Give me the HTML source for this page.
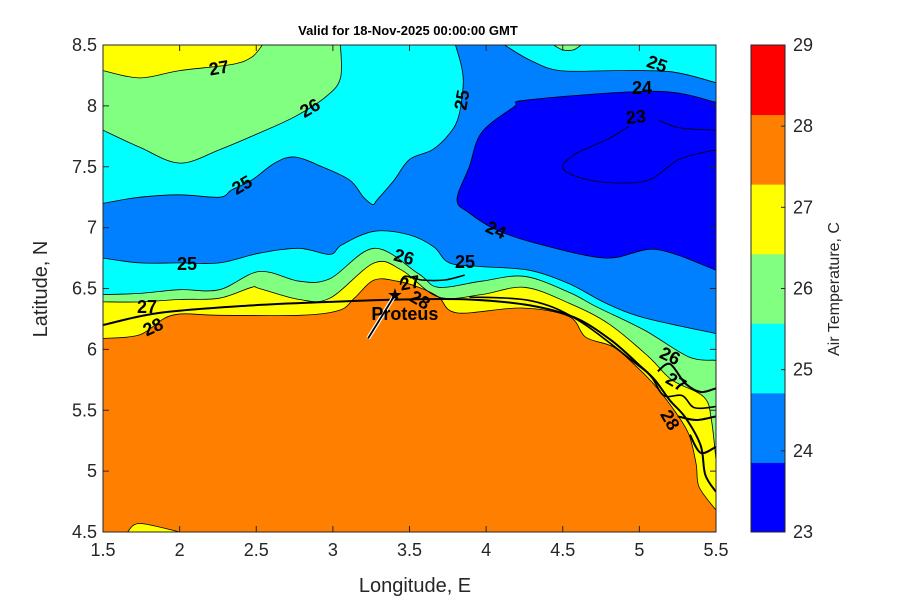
<!DOCTYPE html>
<html><head><meta charset="utf-8"><style>
body{margin:0;background:#fff;}
svg text{font-family:"Liberation Sans",sans-serif;}
</style></head><body>
<svg id="chart" width="900" height="600" viewBox="0 0 900 600" xmlns="http://www.w3.org/2000/svg">
<rect width="900" height="600" fill="#fff"/>
<text x="408" y="35" text-anchor="middle" font-size="13" font-weight="bold" fill="#000">Valid for 18-Nov-2025 00:00:00 GMT</text>
<g id="map"></g>
<g id="axes"></g>
<g id="cbar"></g>
<text x="415" y="592" text-anchor="middle" font-size="20" fill="#262626">Longitude, E</text>
<text transform="translate(47,289) rotate(-90)" text-anchor="middle" font-size="20" fill="#262626">Latitude, N</text>
<text transform="translate(839,289) rotate(-90)" text-anchor="middle" font-size="16" fill="#262626">Air Temperature, C</text>
</svg>
<script>
const xTicks=[1.5,2,2.5,3,3.5,4,4.5,5,5.5];
const yTicks=[4.5,5,5.5,6,6.5,7,7.5,8,8.5];
const cbarLevels=[23,24,25,26,27,28,29];
const cbarColors=['#0000ff','#0080ff','#00ffff','#80ff80','#ffff00','#ff8000','#ff0000'];
// contour lines [lon,lat]
const darkBlue24=[[5.5,8.03],[5.11,8.12],[4.28,8.05],[4.18,7.99],[3.97,7.78],[3.89,7.5],[3.81,7.23],[3.89,7.12],[4.07,6.98],[4.33,6.87],[4.78,6.75],[5.11,6.82],[5.5,6.65]];
const line23a=[[5.5,7.8],[5.26,7.82],[5.13,7.88]];
const line23b=[[4.93,7.83],[4.8,7.73],[4.59,7.61],[4.5,7.5],[4.59,7.42],[4.8,7.37],[5.06,7.39],[5.26,7.56],[5.5,7.64]];
const cyanNW=[[3.8,8.5],[3.84,8.32],[3.85,8.16],[3.82,7.91],[3.76,7.77],[3.65,7.64],[3.5,7.56],[3.4,7.39],[3.29,7.23],[3.26,7.19],[3.2,7.25],[3.11,7.39],[2.93,7.5],[2.75,7.58],[2.62,7.53],[2.47,7.39],[2.34,7.31],[2.26,7.25],[2.0,7.27],[1.74,7.25],[1.5,7.2]];
const cyanNE=[[4.12,8.5],[4.28,8.38],[4.48,8.29],[4.85,8.29],[5.21,8.28],[5.5,8.19]];
const greenTopBump=[[4.44,8.5],[4.5,8.46],[4.57,8.46],[4.62,8.5]];
const greenNW=[[3.05,8.5],[3.05,8.23],[2.96,8.08],[2.75,7.91],[2.47,7.75],[2.26,7.64],[2.0,7.53],[1.74,7.66],[1.5,7.8]];
const yellowNW=[[2.54,8.5],[2.47,8.4],[2.34,8.34],[2.0,8.29],[1.74,8.23],[1.5,8.29]];
const c25S=[[1.5,6.75],[1.74,6.71],[2.0,6.71],[2.26,6.71],[2.52,6.79],[2.78,6.83],[2.98,6.78],[3.06,6.86],[3.27,6.97],[3.5,6.94],[3.66,6.84],[3.76,6.71],[3.97,6.68],[4.28,6.65],[4.54,6.54],[4.78,6.38],[5.03,6.26],[5.5,6.13]];
const c26S=[[1.5,6.45],[1.74,6.46],[2.0,6.49],[2.26,6.49],[2.52,6.64],[2.78,6.56],[2.98,6.58],[3.27,6.83],[3.56,6.62],[3.69,6.51],[3.97,6.56],[4.25,6.6],[4.54,6.47],[4.72,6.35],[5.03,6.16],[5.32,5.94],[5.5,5.91]];
const c27S=[[1.5,6.39],[1.74,6.39],[2.0,6.41],[2.26,6.42],[2.47,6.51],[2.52,6.5],[2.78,6.41],[2.98,6.42],[3.27,6.71],[3.45,6.65],[3.69,6.43],[3.97,6.45],[4.25,6.51],[4.54,6.38],[4.8,6.21],[5.06,5.94],[5.21,5.75],[5.42,5.61],[5.47,5.42],[5.5,5.09]];
const c28S=[[1.5,6.09],[1.74,6.12],[1.95,6.28],[2.26,6.28],[2.78,6.28],[3.04,6.32],[3.14,6.42],[3.27,6.57],[3.42,6.56],[3.56,6.51],[3.69,6.43],[3.81,6.3],[4.23,6.34],[4.54,6.27],[4.65,6.1],[4.83,6.02],[4.98,5.86],[5.09,5.72],[5.21,5.53],[5.32,5.31],[5.37,5.06],[5.39,4.87],[5.5,4.68]];
const yellowBlob=[[1.66,4.5],[1.74,4.57],[2.0,4.5]];
const coast1=[[1.5,6.2],[1.87,6.3],[2.46,6.36],[2.98,6.39],[3.44,6.41],[3.89,6.41],[4.29,6.36],[4.58,6.26],[4.81,6.08],[5.0,5.87],[5.1,5.75],[5.2,5.58],[5.3,5.44],[5.4,5.21],[5.43,4.97],[5.5,4.83]];
const coast2=[[3.89,6.43],[4.29,6.4],[4.6,6.24],[4.98,5.88],[5.08,5.77],[5.16,5.62],[5.28,5.62],[5.36,5.52],[5.5,5.53]];
const coast3=[[5.12,5.82],[5.2,5.88],[5.3,5.72],[5.4,5.65],[5.5,5.68]];
const coast4=[[5.25,5.45],[5.37,5.42],[5.5,5.45]];
const coast5=[[5.33,5.3],[5.4,5.15],[5.5,5.2]];
const island=[[3.44,6.53],[3.47,6.6],[3.58,6.57],[3.73,6.57],[3.86,6.61]];
const proteus=[3.405,6.447];
const trackEnd=[3.23,6.09];

const X0=103,X1=716,Y0=45,Y1=532;
const x=v=>X0+(v-1.5)/(5.5-1.5)*(X1-X0);
const y=v=>Y1-(v-4.5)/(8.5-4.5)*(Y1-Y0);
const NS='http://www.w3.org/2000/svg';
const map=document.getElementById('map');
function mk(tag,attrs,parent){const e=document.createElementNS(NS,tag);for(const k in attrs)e.setAttribute(k,attrs[k]);parent.appendChild(e);return e;}
function smooth(a){
 const P=a.map(p=>[x(p[0]),y(p[1])]);
 let d='M'+P[0][0].toFixed(1)+','+P[0][1].toFixed(1);
 for(let i=0;i<P.length-1;i++){
  const p0=P[Math.max(i-1,0)],p1=P[i],p2=P[i+1],p3=P[Math.min(i+2,P.length-1)];
  const c1=[p1[0]+(p2[0]-p0[0])/6,p1[1]+(p2[1]-p0[1])/6];
  const c2=[p2[0]-(p3[0]-p1[0])/6,p2[1]-(p3[1]-p1[1])/6];
  d+=' C'+c1.map(v=>v.toFixed(1)).join(',')+' '+c2.map(v=>v.toFixed(1)).join(',')+' '+p2.map(v=>v.toFixed(1)).join(',');
 }
 return d;
}
const clip=mk('clipPath',{id:'pc'},map);mk('rect',{x:X0,y:Y0,width:X1-X0,height:Y1-Y0},clip);
const g=mk('g',{'clip-path':'url(#pc)'},map);
let bg=mk('rect',{x:X0,y:Y0,width:X1-X0,height:Y1-Y0,fill:'#0080ff'},g);


function fill(a,corners,col,name){
 let d=smooth(a);
 corners.forEach(c=>{d+=' L'+x(c[0]).toFixed(1)+','+y(c[1]).toFixed(1);});
 d+=' Z';
 const p=mk('path',{d:d,fill:col,stroke:'none'},g);
 
 
}
function line(a,name,w,col){
 const p=mk('path',{d:smooth(a),fill:'none',stroke:col||'#000','stroke-width':w||0.8,'stroke-linejoin':'round'},g);
 
 
}
const BOT=[[5.5,4.5],[1.5,4.5]];
fill(darkBlue24,[],'#0000ff','band-23-24');
fill(cyanNW,[[1.5,8.5]],'#00ffff','band-25-26-north-west');
fill(cyanNE,[[5.5,8.5]],'#00ffff','band-25-26-north-east');
fill(greenTopBump,[],'#80ff80','band-26-27-top');
fill(greenNW,[[1.5,8.5]],'#80ff80','band-26-27-north-west');
fill(yellowNW,[[1.5,8.5]],'#ffff00','band-27-28-north-west');
fill(c25S,BOT,'#00ffff','band-25-26-south');
fill(c26S,BOT,'#80ff80','band-26-27-south');
fill(c27S,BOT,'#ffff00','band-27-28-south');
fill(c28S,BOT,'#ff8000','band-28-29-south');
fill(yellowBlob,[],'#ffff00','band-27-28-blob');
[darkBlue24,line23a,line23b,cyanNW,cyanNE,greenTopBump,greenNW,yellowNW,c25S,c26S,c27S,c28S,yellowBlob].forEach(a=>line(a,'contour-line'));
line(coast1,'coastline',2);line(coast2,'coastline',1.6);line(coast3,'coastline',2);line(coast4,'coastline',2);line(coast5,'coastline',2);line(island,'island-outline',1.6);
line([proteus,trackEnd],'track-outline',4,'#fff');
line([proteus,trackEnd],'track',1.8,'#000');
let st=mk('text',{x:x(proteus[0]),y:y(proteus[1])+6,'text-anchor':'middle','font-size':18,fill:'#000'},map);st.textContent='★';


let pl=mk('text',{x:x(proteus[0])+10,y:y(proteus[1])+25,'text-anchor':'middle','font-size':18,'font-weight':'bold',fill:'#000'},map);pl.textContent='Proteus';


const labels=[['27',219,68,-10],['26',310,108,-30],['25',242,185,-30],['25',462,100,-80],['25',657,64,20],['24',642,88,0],['23',636,117,-5],['24',496,230,25],['25',187,264,0],['26',404,257,15],['25',465,262,0],['27',147,307,0],['28',153,327,-25],['26',670,356,25],['27',676,382,30],['28',670,420,60],['27',410,283,-10],['28',420,300,30]];
labels.forEach(l=>{const t=mk('text',{x:l[1],y:l[2]+6,'text-anchor':'middle','font-size':18,'font-weight':'bold',fill:'#000',transform:`rotate(${l[3]},${l[1]},${l[2]})`},map);t.textContent=l[0];

});
// axes
const ax=document.getElementById('axes');
mk('rect',{x:X0,y:Y0,width:X1-X0,height:Y1-Y0,fill:'none',stroke:'#262626','stroke-width':1},ax);
xTicks.forEach(v=>{mk('line',{x1:x(v),x2:x(v),y1:Y1,y2:Y1-6,stroke:'#262626'},ax);mk('line',{x1:x(v),x2:x(v),y1:Y0,y2:Y0+6,stroke:'#262626'},ax);
 const t=mk('text',{x:x(v),y:Y1+24,'text-anchor':'middle','font-size':18,fill:'#262626'},ax);t.textContent=String(v);
 
 });
yTicks.forEach(v=>{mk('line',{x1:X0,x2:X0+6,y1:y(v),y2:y(v),stroke:'#262626'},ax);mk('line',{x1:X1,x2:X1-6,y1:y(v),y2:y(v),stroke:'#262626'},ax);
 const t=mk('text',{x:X0-6,y:y(v)+6,'text-anchor':'end','font-size':18,fill:'#262626'},ax);t.textContent=String(v);
 
 });
// colorbar
const cb=document.getElementById('cbar');
const CX=751,CW=34;
const cy=v=>Y1-(v-23)/(29-23)*(Y1-Y0);
const bh=(Y1-Y0)/cbarColors.length;
cbarColors.forEach((c,i)=>{const r=mk('rect',{x:CX,y:Y1-(i+1)*bh,width:CW,height:bh+0.5,fill:c},cb);
 
 });
mk('rect',{x:CX,y:Y0,width:CW,height:Y1-Y0,fill:'none',stroke:'#262626'},cb);
cbarLevels.forEach(v=>{mk('line',{x1:CX+CW-4,x2:CX+CW,y1:cy(v),y2:cy(v),stroke:'#262626'},cb);
 const t=mk('text',{x:CX+CW+8,y:cy(v)+6,'font-size':18,fill:'#262626'},cb);t.textContent=String(v);
 
 });
</script>
</body></html>
